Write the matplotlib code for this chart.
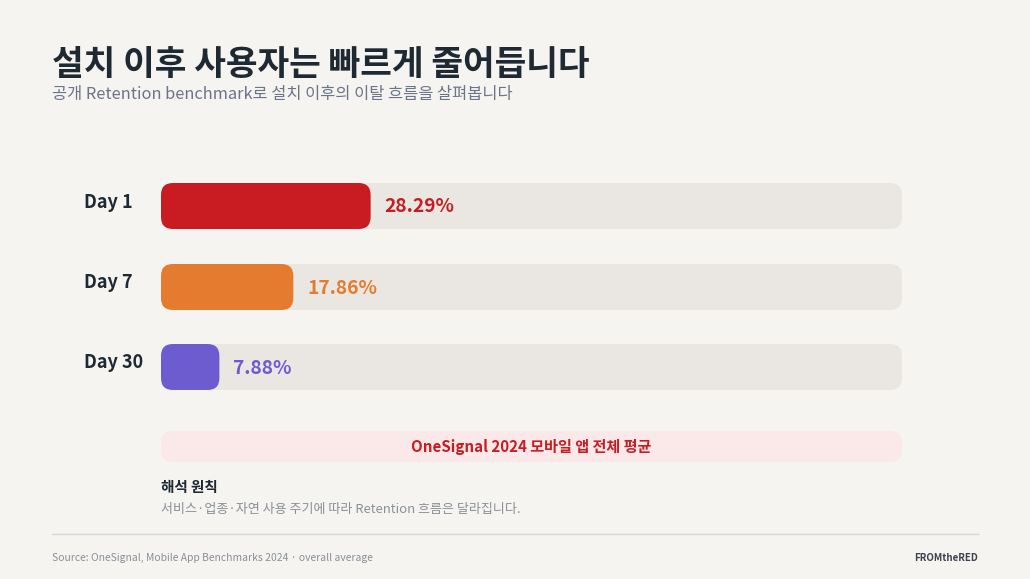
import matplotlib.pyplot as plt
from matplotlib.patches import FancyBboxPatch

plt.rcParams['font.family'] = ['Noto Sans CJK KR', 'DejaVu Sans']

# data
days = ['Day 1', 'Day 7', 'Day 30']
retention = [28.29, 17.86, 7.88]
bar_colors = ['#C81B22', '#E57B2F', '#6D5BD0']

title = '설치 이후 사용자는 빠르게 줄어듭니다'
subtitle = '공개 Retention benchmark로 설치 이후의 이탈 흐름을 살펴봅니다'
note = 'OneSignal 2024 모바일 앱 전체 평균'
memo_head = '해석 원칙'
memo_body = '서비스·업종·자연 사용 주기에 따라 Retention 흐름은 달라집니다.'
source = 'Source: OneSignal, Mobile App Benchmarks 2024 · overall average'
brand = 'FROMtheRED'

bg = '#F6F4F1'
track = '#EAE6E1'
dark = '#1F2933'

W, H = 1030, 579
fig = plt.figure(figsize=(W / 100, H / 100), dpi=100, facecolor=bg)
ax = fig.add_axes([0, 0, 1, 1])
ax.set_xlim(0, W)
ax.set_ylim(H, 0)
ax.axis('off')
ax.set_facecolor(bg)

ax.text(52, 64, title, fontsize=24.8, fontweight='bold', color=dark, va='center')
ax.text(52, 94, subtitle, fontsize=11.8, color='#6B7489', va='center')

x0, x1 = 161, 902
scale = (x1 - x0) / 100.0
bar_h = 46
tops = [183, 264, 344]

for day, val, col, top in zip(days, retention, bar_colors, tops):
    ax.add_patch(FancyBboxPatch((x0, top), x1 - x0, bar_h,
                                boxstyle='round,pad=0,rounding_size=12',
                                fc=track, ec='none'))
    w = val * scale
    ax.add_patch(FancyBboxPatch((x0, top), w, bar_h,
                                boxstyle='round,pad=0,rounding_size=12',
                                fc=col, ec='none'))
    ax.text(84, top + bar_h / 2 - 4, day, fontsize=13, fontweight='bold',
            color=dark, va='center')
    ax.text(x0 + w + 14, top + bar_h / 2 + 1, f'{val:.2f}%', fontsize=13.8,
            fontweight='bold', color=col, va='center')

ax.add_patch(FancyBboxPatch((x0, 431), x1 - x0, 31,
                            boxstyle='round,pad=0,rounding_size=12',
                            fc='#FBE8E8', ec='none'))
ax.text((x0 + x1) / 2, 447, note, fontsize=10.9, fontweight='bold',
        color='#C81B22', ha='center', va='center')

ax.text(x0, 487, memo_head, fontsize=10.5, fontweight='bold', color=dark, va='center')
ax.text(x0, 509, memo_body, fontsize=9.4, color='#8A8F98', va='center')

ax.plot([52, 978], [534, 534], color='#D9D6D2', lw=1)
ax.text(52, 558, source, fontsize=7.45, color='#8A8F98', va='center')
ax.text(978, 558, brand, fontsize=7, fontweight='bold', color='#3A4250',
        ha='right', va='center')

fig.savefig('out.png', dpi=100, facecolor=bg)
